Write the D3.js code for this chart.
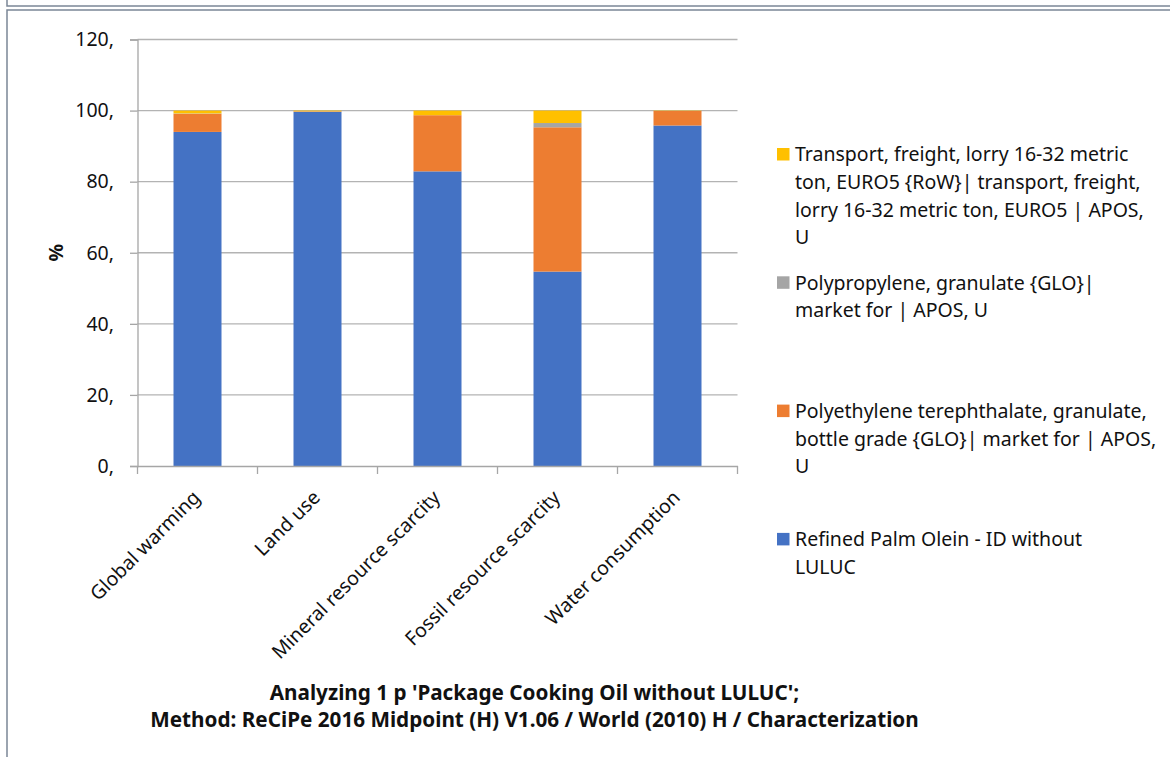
<!DOCTYPE html>
<html>
<head>
<meta charset="utf-8">
<script src="https://cdn.jsdelivr.net/npm/d3@7"></script>
<style>
  html, body { margin: 0; padding: 0; background: #fff; }
  svg { display: block; }
  text { font-family: "Noto Sans", "Open Sans", sans-serif; fill: #111; }
</style>
</head>
<body>
<svg id="chart" width="1170" height="757"></svg>
<script>
// ---- data ----
const categories = ["Global warming", "Land use", "Mineral resource scarcity", "Fossil resource scarcity", "Water consumption"];
const refinedPalmOlein = [94.0, 99.6, 82.9, 54.7, 95.8];
const polyethyleneTerephthalate = [5.1, 0.15, 15.8, 40.6, 4.1];
const polypropylene = [0.1, 0.05, 0.0, 1.2, 0.0];
const transportLorry = [0.8, 0.2, 1.3, 3.5, 0.1];
const yTickValues = [0, 20, 40, 60, 80, 100, 120];
const yAxisTitle = "%";
const titleLines = [
  "Analyzing 1 p 'Package Cooking Oil without LULUC';",
  "Method: ReCiPe 2016 Midpoint (H) V1.06 / World (2010) H / Characterization"
];
const seriesNames = ["Refined Palm Olein", "PET", "Polypropylene", "Transport"];
const legendLines = [
  ["Transport, freight, lorry 16-32 metric", "ton, EURO5 {RoW}| transport, freight,", "lorry 16-32 metric ton, EURO5 | APOS,", "U"],
  ["Polypropylene, granulate {GLO}|", "market for | APOS, U"],
  ["Polyethylene terephthalate, granulate,", "bottle grade {GLO}| market for | APOS,", "U"],
  ["Refined Palm Olein - ID without", "LULUC"]
];
const legendSeries = ["Transport", "Polypropylene", "PET", "Refined Palm Olein"];

// ---- layout ----
const svg = d3.select("#chart");
const W = 1170, H = 757;
const plot = { left: 137.5, right: 737.5, top: 39.5, bottom: 466 };
const colors = d3.scaleOrdinal()
  .domain(seriesNames)
  .range(["#4472C4", "#ED7D31", "#A5A5A5", "#FFC000"]);

// frame lines
const frameColor = "#7b8696";
svg.append("path")
  .attr("d", `M7,0 V6 H${W}`)
  .attr("fill", "none").attr("stroke", frameColor).attr("stroke-width", 1.5);
svg.append("path")
  .attr("d", `M${W},10 H7 V${H}`)
  .attr("fill", "none").attr("stroke", frameColor).attr("stroke-width", 1.5);

const x = d3.scaleBand()
  .domain(categories)
  .range([plot.left, plot.right])
  .paddingInner(0.6)
  .paddingOuter(0.3);
const y = d3.scaleLinear().domain([0, 120]).range([plot.bottom, plot.top]);

// gridlines
svg.append("g")
  .selectAll("line")
  .data(yTickValues.filter(d => d > 0))
  .join("line")
  .attr("x1", plot.left).attr("x2", plot.right)
  .attr("y1", d => y(d)).attr("y2", d => y(d))
  .attr("stroke", "#b3b3b3").attr("stroke-width", 1.3);

// stacked data
const rows = categories.map((c, i) => ({
  category: c,
  "Refined Palm Olein": refinedPalmOlein[i],
  "PET": polyethyleneTerephthalate[i],
  "Polypropylene": polypropylene[i],
  "Transport": transportLorry[i]
}));
const stacked = d3.stack().keys(seriesNames)(rows);

svg.append("g")
  .selectAll("g")
  .data(stacked)
  .join("g")
  .attr("fill", d => colors(d.key))
  .selectAll("rect")
  .data(d => d)
  .join("rect")
  .attr("x", d => x(d.data.category))
  .attr("width", x.bandwidth())
  .attr("y", d => y(d[1]))
  .attr("height", d => Math.max(0, y(d[0]) - y(d[1])));

// y axis
const yAxis = d3.axisLeft(y)
  .tickValues(yTickValues)
  .tickFormat(d => d + ",")
  .tickSize(7.5)
  .tickPadding(16);
const gy = svg.append("g")
  .attr("transform", `translate(${plot.left},0)`)
  .call(yAxis);
gy.select(".domain").attr("stroke", "#a6a6a6").attr("stroke-width", 1.3);
gy.selectAll(".tick line").attr("stroke", "#a6a6a6").attr("stroke-width", 1.3);
gy.selectAll(".tick text")
  .style("font-family", '"Noto Sans", sans-serif')
  .style("font-size", "19.5px")
  .attr("fill", "#111");

// x axis
const xAxis = d3.axisBottom(x).tickSize(0).tickFormat("");
const gx = svg.append("g")
  .attr("transform", `translate(0,${plot.bottom})`)
  .call(xAxis);
gx.select(".domain").attr("stroke", "#a6a6a6").attr("stroke-width", 1.3);
// category boundary ticks
const boundaries = categories.map(c => x(c) - (x.step() - x.bandwidth()) / 2)
  .concat([plot.right]);
gx.append("g")
  .selectAll("line")
  .data(boundaries)
  .join("line")
  .attr("x1", d => d).attr("x2", d => d)
  .attr("y1", 0).attr("y2", 8)
  .attr("stroke", "#a6a6a6").attr("stroke-width", 1.3);

// category labels, rotated
svg.append("g")
  .selectAll("text")
  .data(categories)
  .join("text")
  .attr("transform", d => `translate(${x(d) + x.bandwidth() / 2 - 6},${plot.bottom + 23}) rotate(-45)`)
  .attr("text-anchor", "end")
  .attr("dy", "0.71em")
  .style("font-size", "19.5px")
  .text(d => d);

// y axis title
svg.append("text")
  .attr("transform", `translate(56,${(plot.top + plot.bottom) / 2}) rotate(-90)`)
  .attr("text-anchor", "middle")
  .attr("dy", "0.35em")
  .style("font-size", "19.5px")
  .style("font-weight", "bold")
  .text(yAxisTitle);

// legend
const legendTop = 154.5, legendStep = 128.3, lineH = 27.7;
const lg = svg.append("g");
legendSeries.forEach((key, i) => {
  const cy = legendTop + i * legendStep;
  lg.append("rect")
    .attr("x", 777).attr("y", cy - 6.5).attr("width", 12.5).attr("height", 12.5)
    .attr("fill", colors(key));
  const t = lg.append("text")
    .attr("x", 795).attr("y", cy)
    .style("font-size", "19.5px");
  legendLines[i].forEach((ln, j) => {
    t.append("tspan").attr("x", 795).attr("y", cy + j * lineH).attr("dy", "0.35em").text(ln);
  });
});

// title
svg.append("g")
  .selectAll("text")
  .data(titleLines)
  .join("text")
  .attr("x", 534.5)
  .attr("y", (d, i) => 693 + i * 27)
  .attr("dy", "0.35em")
  .attr("text-anchor", "middle")
  .style("font-size", "20.7px")
  .style("font-weight", "bold")
  .text(d => d);
</script>
</body>
</html>
